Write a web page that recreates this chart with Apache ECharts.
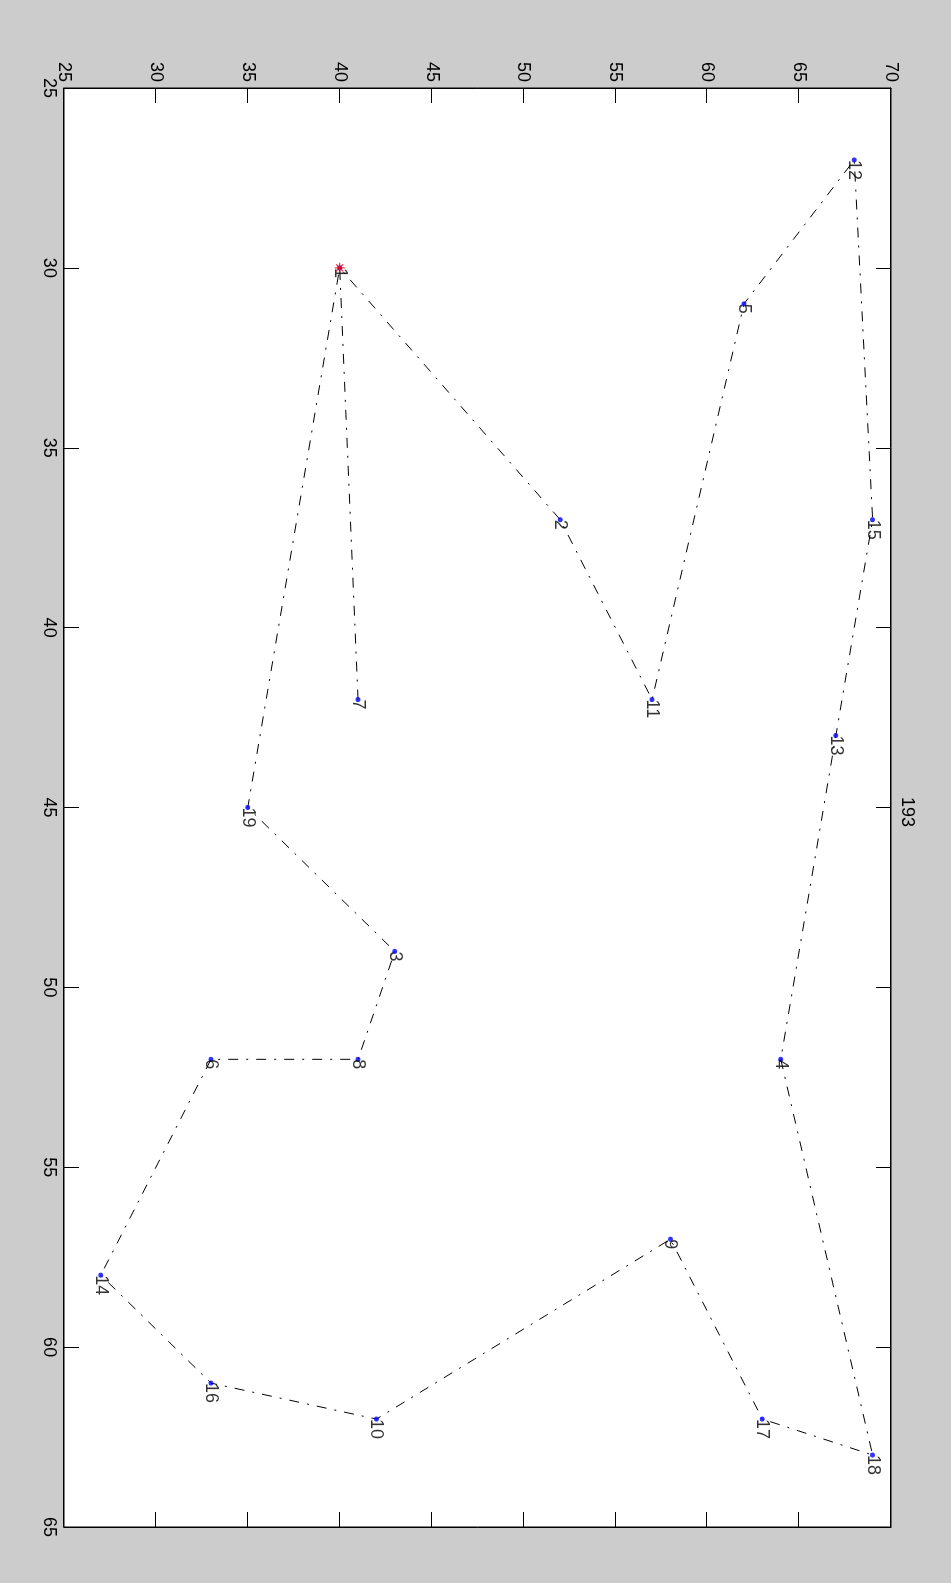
<!DOCTYPE html>
<html>
<head>
<meta charset="utf-8">
<script src="https://cdn.jsdelivr.net/npm/echarts@6/dist/echarts.min.js"></script>
<style>
  html, body { margin: 0; padding: 0; background: #cccccc; width: 951px; height: 1583px; overflow: hidden; }
  /* the figure is laid out landscape and turned a quarter clockwise onto the portrait page */
  #frame { position: absolute; left: 0; top: 0; width: 1583px; height: 951px;
           transform-origin: 0 0; transform: translateX(951px) rotate(90deg); }
</style>
</head>
<body>
<div id="frame"></div>
<script>
// City coordinates
const cityIds = [1, 2, 3, 4, 5, 6, 7, 8, 9, 10, 11, 12, 13, 14, 15, 16, 17, 18, 19];
const cityX   = [30, 37, 49, 52, 31, 52, 42, 52, 57, 62, 42, 27, 43, 58, 37, 61, 62, 63, 45];
const cityY   = [40, 52, 43, 64, 62, 33, 41, 41, 58, 42, 57, 68, 67, 27, 69, 33, 63, 69, 35];

// Order in which the tour visits the cities
const route = [7, 1, 2, 11, 5, 12, 15, 13, 4, 18, 17, 9, 10, 16, 14, 6, 8, 3, 19, 1];
const startCity = 1;

// Total tour length shown as the title
const tourLength = '193';

// Axis ticks
const xTicks = [25, 30, 35, 40, 45, 50, 55, 60, 65];
const yTicks = [25, 30, 35, 40, 45, 50, 55, 60, 65, 70];

const FONT = "'Liberation Sans', Arial, Helvetica, sans-serif";
const BLACK = '#000000';
const FONT_SIZE = 18;

function pointOf(id) {
  const i = cityIds.indexOf(id);
  return [cityX[i], cityY[i]];
}

const routeData = route.map(pointOf);
const cityData = cityIds.map((id, i) => ({ value: [cityX[i], cityY[i]], name: String(id) }));

function makeAxis(ticks, position, showLabels) {
  return {
    type: 'value',
    position: position,
    min: ticks[0],
    max: ticks[ticks.length - 1],
    interval: ticks[1] - ticks[0],
    axisLine: { show: true, onZero: false, lineStyle: { color: BLACK, width: 1 } },
    axisTick: { show: true, inside: true, length: 15, lineStyle: { color: BLACK, width: 1 } },
    axisLabel: {
      show: showLabels, margin: 6, color: BLACK, fontSize: FONT_SIZE, fontFamily: FONT,
      showMinLabel: true, showMaxLabel: true
    },
    splitLine: { show: false }
  };
}

// asterisk marker for the starting city
const asterisk = 'path://M-5,-0.6H5V0.6H-5Z M-0.6,-5H0.6V5H-0.6Z ' +
  'M-3.96,-3.11L-3.11,-3.96L3.96,3.11L3.11,3.96Z M3.11,-3.96L3.96,-3.11L-3.11,3.96L-3.96,3.11Z';

const chart = echarts.init(document.getElementById('frame'), null, { width: 1583, height: 951 });

chart.setOption({
  animation: false,
  backgroundColor: '#cccccc',
  title: {
    text: tourLength,
    left: 807,
    top: 30,
    textAlign: 'center',
    textStyle: { color: BLACK, fontSize: FONT_SIZE, fontWeight: 'normal', fontFamily: FONT }
  },
  grid: {
    left: 88, right: 56, top: 60, bottom: 64,
    show: true, backgroundColor: '#ffffff', borderColor: BLACK, borderWidth: 1
  },
  xAxis: [makeAxis(xTicks, 'bottom', true), makeAxis(xTicks, 'top', false)],
  yAxis: [makeAxis(yTicks, 'left', true), makeAxis(yTicks, 'right', false)],
  series: [
    {
      type: 'line',
      data: routeData,
      showSymbol: false,
      symbol: 'none',
      lineStyle: { color: BLACK, width: 1, type: [10, 8, 2, 8] },
      z: 2
    },
    {
      type: 'scatter',
      data: cityData,
      symbol: 'circle',
      symbolSize: 5,
      itemStyle: { color: '#0000ff' },
      label: {
        show: true,
        position: ['50%', '50%'],
        align: 'left',
        verticalAlign: 'middle',
        formatter: p => p.name,
        color: BLACK,
        fontSize: FONT_SIZE,
        fontFamily: FONT
      },
      z: 3
    },
    {
      type: 'scatter',
      data: [pointOf(startCity)],
      symbol: asterisk,
      symbolSize: 10,
      itemStyle: { color: '#ff0000' },
      z: 4
    }
  ]
});
</script>
</body>
</html>
